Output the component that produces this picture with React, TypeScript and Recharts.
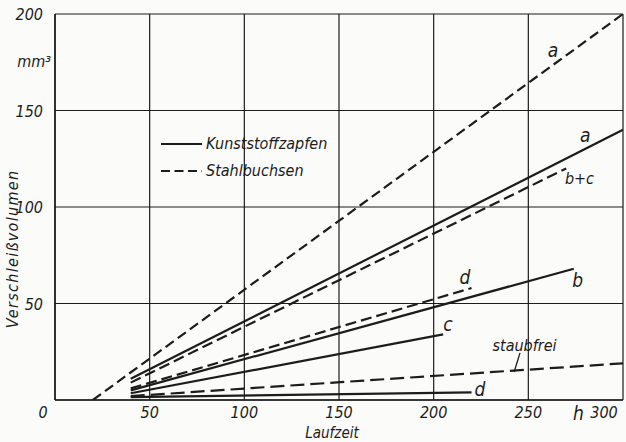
import { LineChart, Line, XAxis, YAxis, CartesianGrid, ReferenceDot, ReferenceLine } from "recharts"

// Laufzeit (h) / Verschleißvolumen (mm³), jeweils Anfangs- und Endpunkt
const stahlA = [{ x: 20, y: 0 }, { x: 300, y: 200 }]
const kunststoffA = [{ x: 40, y: 11 }, { x: 300, y: 140 }]
const stahlBC = [{ x: 40, y: 9 }, { x: 270, y: 120 }]
const stahlD = [{ x: 40, y: 6 }, { x: 220, y: 58 }]
const kunststoffB = [{ x: 40, y: 5 }, { x: 274, y: 68 }]
const kunststoffC = [{ x: 40, y: 3.5 }, { x: 205, y: 34 }]
const staubfrei = [{ x: 40, y: 2 }, { x: 300, y: 19 }]
const kunststoffD = [{ x: 40, y: 1.5 }, { x: 220, y: 4 }]

const xTicks = [0, 50, 100, 150, 200, 250, 300]
const yTicks = [50, 100, 150, 200]

const kurvenLabels = [
  { x: 263, y: 181, text: "a" },
  { x: 280, y: 137, text: "a" },
  { x: 277, y: 115, text: "b+c" },
  { x: 216.5, y: 63.5, text: "d" },
  { x: 276, y: 62, text: "b" },
  { x: 207.5, y: 39, text: "c" },
  { x: 248, y: 28.5, text: "staubfrei" },
  { x: 224.5, y: 5.7, text: "d" },
]

const FONT = "'DejaVu Sans Condensed', 'Liberation Sans', sans-serif"
const INK = "#1c1c1c"

function XTick({ x, y, payload }: any) {
  const v = payload.value
  const dx = v === 0 ? -12 : v === 300 ? -10 : 0
  return (
    <text x={x + dx} y={y + 10} textAnchor="middle" fontFamily={FONT} fontStyle="italic" fontSize={16} fill={INK}>
      {v}
    </text>
  )
}

function YTick({ x, y, payload }: any) {
  return (
    <text x={x - 4} y={y + 6} textAnchor="end" fontFamily={FONT} fontStyle="italic" fontSize={16} fill={INK}>
      {payload.value}
    </text>
  )
}

function Legende() {
  return (
    <div style={{ position: "absolute", left: 161, top: 130, fontFamily: FONT, fontStyle: "italic", fontSize: 16, color: INK, lineHeight: "27px" }}>
      <div style={{ display: "flex", alignItems: "center" }}>
        <svg width={45} height={10}><line x1={0} y1={5} x2={41} y2={5} stroke={INK} strokeWidth={2.2} /></svg>
        Kunststoffzapfen
      </div>
      <div style={{ display: "flex", alignItems: "center" }}>
        <svg width={45} height={10}><line x1={0} y1={5} x2={41} y2={5} stroke={INK} strokeWidth={2.2} strokeDasharray="9 4.5" /></svg>
        Stahlbuchsen
      </div>
    </div>
  )
}

export default function App() {
  const lineProps = { dataKey: "y", stroke: INK, strokeWidth: 2.2, dot: false, isAnimationActive: false, legendType: "none" as const }
  return (
    <div style={{ position: "absolute", left: 0, top: 0, width: 626, height: 442, background: "#fbfbfa" }}>
      <LineChart width={626} height={442} margin={{ top: 14, right: 3, bottom: 0, left: 0 }}>
        <CartesianGrid stroke={INK} strokeWidth={1.2} />
        <XAxis
          type="number"
          dataKey="x"
          domain={[0, 300]}
          ticks={xTicks}
          tick={<XTick />}
          tickLine={false}
          axisLine={{ stroke: INK, strokeWidth: 1.5 }}
          height={42}
          allowDataOverflow
          label={{
            content: () => (
              <text x={332} y={438} textAnchor="middle" fontFamily={FONT} fontStyle="italic" fontSize={15} fill={INK}>Laufzeit</text>
            ),
          }}
        />
        <YAxis
          type="number"
          domain={[0, 200]}
          ticks={yTicks}
          tick={<YTick />}
          tickLine={false}
          axisLine={{ stroke: INK, strokeWidth: 1.5 }}
          width={55}
          allowDataOverflow
          label={{
            content: () => (
              <text x={0} y={0} transform="translate(18 249) rotate(-90)" textAnchor="middle" fontFamily={FONT} fontStyle="italic" fontSize={16} letterSpacing={1.3} fill={INK}>Verschleißvolumen</text>
            ),
          }}
        />
        <Line {...lineProps} data={stahlA} strokeDasharray="10 5" />
        <Line {...lineProps} data={kunststoffA} />
        <Line {...lineProps} data={stahlBC} strokeDasharray="11 5" />
        <Line {...lineProps} data={stahlD} strokeDasharray="11 5" />
        <Line {...lineProps} data={kunststoffB} />
        <Line {...lineProps} data={kunststoffC} />
        <Line {...lineProps} data={staubfrei} strokeDasharray="14 6" />
        <Line {...lineProps} data={kunststoffD} />
        <ReferenceLine segment={[{ x: 245.6, y: 24.4 }, { x: 242.5, y: 14.5 }]} stroke={INK} strokeWidth={1.3} />
        {kurvenLabels.map((l, i) => (
          <ReferenceDot key={i} x={l.x} y={l.y} r={0} stroke="none" fill="none"
            label={{ value: l.text, position: "center", fontFamily: FONT, fontStyle: "italic", fontSize: l.text.length > 1 ? 16 : 19, fill: INK }} />
        ))}
        <ReferenceDot x={276.5} y={-7} r={0} stroke="none" fill="none" ifOverflow="visible"
          label={{ value: "h", position: "center", fontFamily: FONT, fontStyle: "italic", fontSize: 19, fill: INK }} />
        <ReferenceDot x={-11} y={175.5} r={0} stroke="none" fill="none" ifOverflow="visible"
          label={{ value: "mm³", position: "center", fontFamily: FONT, fontStyle: "italic", fontSize: 16, fill: INK }} />
      </LineChart>
      <Legende />
    </div>
  )
}
